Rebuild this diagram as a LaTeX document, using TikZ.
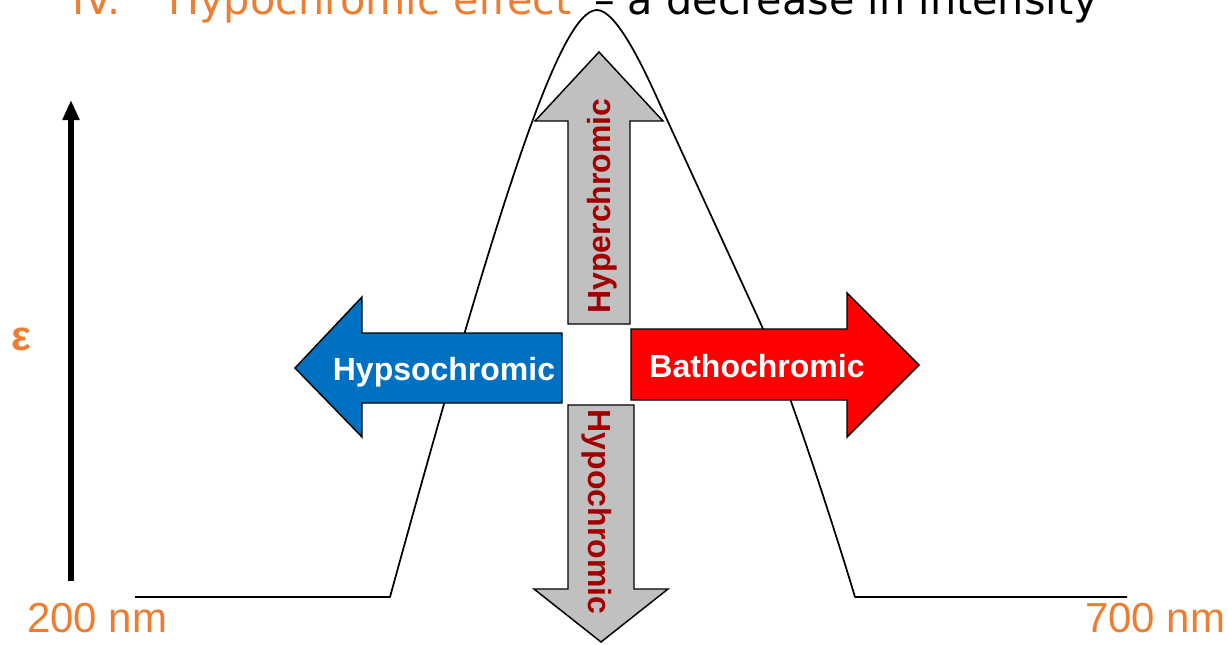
\documentclass[tikz,border=0pt]{standalone}
\usepackage{fontspec}
\setmainfont{Liberation Sans}
\newfontfamily\titlefont{DejaVu Sans}
\usepackage{tikz}
\usetikzlibrary{arrows.meta}
\usepackage{xcolor}
\definecolor{SpecOrange}{HTML}{ED7D31}
\definecolor{SpecBlue}{HTML}{0070C0}
\definecolor{SpecRed}{HTML}{FF0000}
\definecolor{SpecGray}{HTML}{C0C0C0}
\definecolor{SpecDark}{HTML}{A00000}

\begin{document}
\begin{tikzpicture}[
    x=0.75pt,y=-0.75pt,
    spec/.style={line width=1.3pt,line join=round},
    axisarr/.style={-{Triangle[length=15pt,width=12pt]},line width=4pt},
    blk/.style={draw=black,line width=1.1pt,line join=miter},
    lbl/.style={inner sep=0pt,font=\fontsize{24}{28}\selectfont\bfseries},
    nmlbl/.style={inner sep=0pt,anchor=base west,text=SpecOrange,
      font=\fontsize{31.5}{36}\selectfont},
    ttl/.style={inner sep=0pt,font=\titlefont\fontsize{31}{36}\selectfont}
  ]
    \useasboundingbox (0,0) rectangle (1228,644);
    \clip (0,0) rectangle (1228,644);

    % title line, cut by the top edge
    \node[ttl,anchor=base west,text=SpecOrange] (num) at (72,14) {IV.};
    \node[ttl,anchor=base west,text=SpecOrange] (eff) at (168,14) {Hypochromic effect};
    \node[ttl,anchor=base east] (dec) at (1098,14) {– a decrease in intensity};

    % absorption band
    \draw[spec] (135,597) -- (390,597)
      .. controls (500,197) and (560,10) .. (597,10)
      .. controls (615,10) and (640,60) .. (658,100)
      -- (759,320)
      .. controls (787,380) and (837,537) .. (855,597)
      -- (1127,597);

    % shift arrows
    \draw[blk,fill=SpecGray] (568,324) -- (568,121) -- (535,121) -- (599,52)
      -- (663,121) -- (630,121) -- (630,324) -- cycle;
    \node[lbl,text=SpecDark,rotate=90,anchor=base] (hyper) at (610,206) {Hyperchromic};

    \draw[blk,fill=SpecGray] (568,405) -- (568,589) -- (534,589) -- (601,642)
      -- (668,589) -- (634,589) -- (634,405) -- cycle;
    \node[lbl,text=SpecDark,rotate=-90,anchor=base] (hypo) at (588,512) {Hypochromic};

    \draw[blk,fill=SpecBlue] (562,333) -- (362,333) -- (362,297) -- (295,368)
      -- (362,437) -- (362,403) -- (562,403) -- cycle;
    \node[lbl,text=white,anchor=base] (hypso) at (444,380) {Hypsochromic};

    \draw[blk,fill=SpecRed] (631,329) -- (847,329) -- (847,293) -- (919,365)
      -- (847,437) -- (847,400) -- (631,400) -- cycle;
    \node[lbl,text=white,anchor=base] (batho) at (757,377) {Bathochromic};

    % axis
    \coordinate (ybot) at (71,581);
    \coordinate (ytop) at (71,100);
    \draw[axisarr] (ybot) -- (ytop);
    \node[text=SpecOrange,inner sep=0pt,font=\fontsize{31.5}{36}\selectfont\bfseries]
      (eps) at (21,339) {ε};

    \node[nmlbl] (lo) at (27,632) {200 nm};
    \node[nmlbl] (hi) at (1085,632) {700 nm};
  \end{tikzpicture}
\end{document}
